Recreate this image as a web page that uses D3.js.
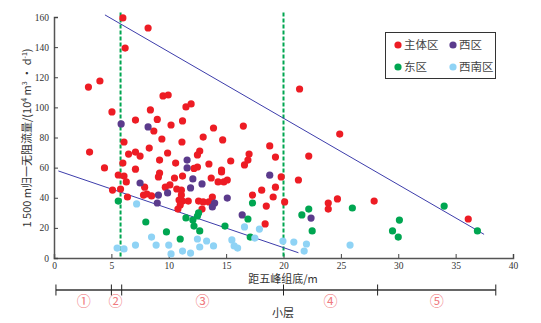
<!DOCTYPE html>
<html><head><meta charset="utf-8">
<script src="https://cdn.jsdelivr.net/npm/d3@7"></script>
<style>body{margin:0;background:#fff}svg{display:block}</style>
</head><body>
<svg id="chart" width="541" height="323"></svg>
<script>
// ---- data ----
const seriesNames = ["主体区", "西区", "东区", "西南区"];
const seriesColors = ["#ed1c24", "#5b3b8c", "#00a651", "#8fd3f5"];
const mainZone = [
 [3.0,113.5],[4.0,117.5],[5.05,97],[6.0,159.4],[6.2,139.4],[8.2,152.7],[8.4,98.3],[7.1,91.6],[9.0,92],
 [9.5,107.6],[9.95,108.2],[10.2,88.3],[11.2,91],[11.5,100.3],[11.95,102.3],[8.7,84.3],[9.4,79],[6.1,77],
 [8.3,73],[11.15,77],[3.1,70.3],[6.5,69],[7.1,70.3],[7.5,67.7],[9.9,69.7],[9.2,65],[4.4,59.8],[6.0,63],
 [7.1,59],[10.6,63],[13.9,86.3],[16.5,87.6],[13.0,80.3],[14.7,78.4],[12.7,71],[12.5,68.4],[18.8,74.4],
 [17.0,69],[16.9,65],[16.6,61.8],[19.3,67],[15.4,64.4],[13.5,62.4],[12.5,60.4],[12.2,59.5],[14.6,58.4],
 [21.4,112.2],[24.9,82.3],[22.2,67.7],[19.8,53.8],[21.3,51.8],[14.3,50.5],[14.8,50.5],[15.1,51.8],
 [19.3,47],[18.1,45],[17.3,41.8],[19.1,40.5],[18.5,34.5],[20.1,37.2],[18.4,22.6],[23.9,36.5],[23.9,32.5],
 [24.7,39.2],[27.9,37.8],[36.1,25.9],[5.6,55.1],[6.1,54.4],[6.3,50.5],[9.2,56.4],[9.1,53.8],[9.7,47],
 [10.1,48.5],[5.1,45.1],[5.8,45.8],[6.4,40.5],[7.8,41.8],[8.1,42.5],[8.5,41.2],[7.9,47],[10.5,53.1],
 [11.2,54.4],[13.7,53.1],[14.6,57.1],[10.7,45.8],[11.1,41.8],[10.9,38.5],[11.2,37.8],[11.7,37.8],
 [11.0,35.2],[10.8,32.5],[12.6,37.8],[13.0,37.2],[12.9,32.5],[13.8,40.5],[13.5,37.2],[11.1,45]
];
const westZone = [
 [5.85,89],[8.2,87],[7.5,49.8],[9.1,41.8],[9.0,36.5],[9.9,43.2],[11.6,65],[11.6,59.8],[12.1,52.5],
 [11.9,46.5],[12.9,49.2],[14.0,36.5],[13.8,33.9],[15.1,39.8],[16.4,28.6],[18.8,55],[22.4,26.5]
];
const eastZone = [
 [5.6,37.8],[8.0,23.9],[9.8,17.3],[11.0,12.6],[11.5,26.6],[12.1,25.2],[12.2,21.2],[12.6,29.9],[12.5,27.9],
 [12.7,18],[14.9,21.2],[17.3,36.5],[16.9,25.9],[17.1,13.9],[21.6,28.6],[22.2,32.5],[22.5,18],[26,33.2],
 [30.1,25.2],[29.5,18],[30.0,13.9],[34.0,34.5],[36.9,18]
];
const southwestZone = [
 [7.2,35.9],[8.5,13.9],[8.9,8.6],[7.1,8.6],[5.5,6.6],[6.1,6.0],[10.2,2.7],[10.0,8.6],[11.2,4.6],[11.9,3.3],
 [12.5,12.6],[12.7,7.3],[13.3,11.3],[13.9,8],[15.5,12],[15.7,8],[16.0,6.6],[16.6,20.6],[17.9,19.2],
 [17.5,13.2],[19.95,11.3],[20.9,10.6],[22.0,9.3],[21.8,4.6],[25.8,8.6]
];
const upperLine = [[4.44,161.4],[37.48,15.7]];
const lowerLine = [[0.38,57.8],[21.3,3.5]];
const boundaryX = [5.8, 20];
const xTicks = [0,5,10,15,20,25,30,35,40];
const yTicks = [0,20,40,60,80,100,120,140,160];
const layerBounds = [0.17, 5.0, 5.9, 20, 28.2, 38.5];
const layerLabels = ["①","②","③","④","⑤"];

// ---- drawing ----
const svg = d3.select("#chart");
const x = d3.scaleLinear().domain([0,40]).range([54,513]);
const y = d3.scaleLinear().domain([0,160]).range([258,17]);
const serif = "'Liberation Serif','Noto Sans CJK SC',serif";
const cjk = "'Noto Sans CJK SC','Liberation Serif',serif";

// axes
const xAxis = svg.append("g").attr("transform","translate(0,258)")
  .call(d3.axisBottom(x).tickValues(xTicks).tickSize(-4).tickPadding(4).tickFormat(d3.format("d")));
const yAxis = svg.append("g").attr("transform","translate(54,0)")
  .call(d3.axisLeft(y).tickValues(yTicks).tickSize(-4).tickPadding(5).tickFormat(d3.format("d")));
[xAxis,yAxis].forEach(a=>{
  a.select(".domain").attr("stroke","#555").attr("stroke-width",1.5);
  a.selectAll(".tick line").attr("stroke","#444");
  a.selectAll("text").attr("font-family",serif).attr("font-size",9.5).attr("fill","#333");
});

// boundary dashed lines
svg.append("g").selectAll("line").data(boundaryX).join("line")
  .attr("x1",d=>x(d)).attr("x2",d=>x(d)).attr("y1",y(163)).attr("y2",y(0))
  .attr("stroke","#00a651").attr("stroke-width",2).attr("stroke-dasharray","4,2");

// fitted lines
const line = d3.line().x(d=>x(d[0])).y(d=>y(d[1]));
svg.append("g").selectAll("path").data([upperLine,lowerLine]).join("path")
  .attr("d",line).attr("fill","none").attr("stroke","#3d3dab").attr("stroke-width",1);

// points
const allSeries = [mainZone, westZone, eastZone, southwestZone];
allSeries.forEach((s,i)=>{
  svg.append("g").selectAll("circle").data(s).join("circle")
    .attr("cx",d=>x(d[0])).attr("cy",d=>y(d[1])).attr("r",3.6)
    .attr("fill",seriesColors[i]);
});

// legend
const lg = svg.append("g");
lg.append("rect").attr("x",385.5).attr("y",32.5).attr("width",110).attr("height",46)
  .attr("fill","#fff").attr("stroke","#333").attr("stroke-width",1);
const legPos = [[398,45],[453,45],[398,67],[453,67]];
seriesNames.forEach((n,i)=>{
  lg.append("circle").attr("cx",legPos[i][0]).attr("cy",legPos[i][1]).attr("r",3.6).attr("fill",seriesColors[i]);
  lg.append("text").attr("x",legPos[i][0]+6).attr("y",legPos[i][1]+4).text(n)
    .attr("font-family",cjk).attr("font-size",11.5).attr("fill","#444");
});

// axis titles
svg.append("text").attr("x",283).attr("y",283).attr("text-anchor","middle")
  .attr("font-family",cjk).attr("font-size",11).attr("fill","#333").text("距五峰组底/m");
const yt = svg.append("text").attr("transform","translate(31,138) rotate(-90)").attr("text-anchor","middle")
  .attr("font-family",cjk).attr("font-size",11).attr("fill","#333");
yt.append("tspan").text("1 500 m归一无阻流量/(10");
yt.append("tspan").attr("dy",-4).attr("font-size",7).text("4");
yt.append("tspan").attr("dy",4).text(" m");
yt.append("tspan").attr("dy",-4).attr("font-size",7).text("3");
yt.append("tspan").attr("dy",4).text(" • d");
yt.append("tspan").attr("dy",-4).attr("font-size",7).text("-1");
yt.append("tspan").attr("dy",4).text(")");

// layer bracket
const bx = d3.scaleLinear().domain([0,40]).range([54,513]);
svg.append("line").attr("x1",bx(layerBounds[0])).attr("x2",bx(layerBounds[layerBounds.length-1]))
  .attr("y1",290).attr("y2",290).attr("stroke","#666").attr("stroke-width",2);
svg.append("g").selectAll("line").data(layerBounds).join("line")
  .attr("x1",d=>bx(d)).attr("x2",d=>bx(d)).attr("y1",284.5).attr("y2",295.5)
  .attr("stroke","#222").attr("stroke-width",1);
svg.append("g").selectAll("text").data(layerLabels).join("text")
  .attr("x",(d,i)=>(bx(layerBounds[i])+bx(layerBounds[i+1]))/2 + (i===1?-1:0))
  .attr("y",306).attr("text-anchor","middle")
  .attr("font-family",cjk).attr("font-size",14).attr("fill","#f07a80").text(d=>d);
svg.append("text").attr("x",283).attr("y",317).attr("text-anchor","middle")
  .attr("font-family",cjk).attr("font-size",11).attr("fill","#333").text("小层");
</script>
</body></html>
